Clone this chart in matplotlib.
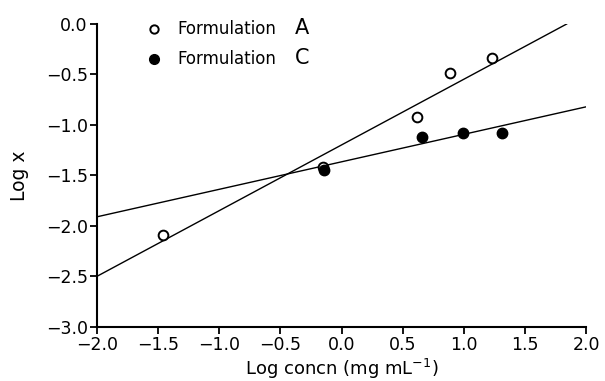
import numpy as np
import matplotlib
matplotlib.use('Agg')
import matplotlib.pyplot as plt

# data
a_x = [-1.46, -0.15, 0.62, 0.89, 1.23]
a_y = [-2.09, -1.42, -0.92, -0.49, -0.34]
c_x = [-0.14, 0.66, 0.99, 1.31]
c_y = [-1.45, -1.12, -1.08, -1.08]

# fitted lines (end points)
a_line_x = [-2.0, 1.84]
a_line_y = [-2.5, 0.0]
c_line_x = [-2.0, 2.0]
c_line_y = [-1.91, -0.82]

xticks = np.arange(-2.0, 2.01, 0.5)
yticks = np.arange(-3.0, 0.01, 0.5)

plt.rcParams['font.family'] = 'DejaVu Sans'

fig = plt.figure(figsize=(6.05, 3.81), dpi=100)
ax = fig.add_axes([0.160, 0.142, 0.809, 0.795])

ax.plot(a_line_x, a_line_y, color='black', lw=1.0)
ax.plot(c_line_x, c_line_y, color='black', lw=1.0)

ax.plot(a_x, a_y, 'o', mfc='white', mec='black', mew=1.4, ms=7, zorder=3)
ax.plot(c_x, c_y, 'o', mfc='black', mec='black', ms=7.5, zorder=3)

ax.set_xlim(-2.0, 2.0)
ax.set_ylim(-3.0, 0.0)
ax.set_xticks(xticks)
ax.set_yticks(yticks)
ax.set_xticklabels([f'{v:.1f}'.replace('-', '\u2212') for v in xticks])
ax.set_yticklabels([f'{v:.1f}'.replace('-', '\u2212') if v != 0 else '0.0' for v in yticks])

for s in ['top', 'right']:
    ax.spines[s].set_visible(False)
for s in ['left', 'bottom']:
    ax.spines[s].set_linewidth(1.5)
ax.tick_params(direction='out', length=5, width=1.3, labelsize=12.5, pad=1.5)

ax.set_xlabel('Log concn (mg mL$^{-1}$)', fontsize=13, va='center')
ax.xaxis.set_label_coords(0.5, -0.14)
ax.set_ylabel('Log x', fontsize=13.5, va='center')
ax.yaxis.set_label_coords(-0.158, 0.5)

# legend
ax.plot([-1.53], [-0.05], 'o', mfc='white', mec='black', mew=1.4, ms=6, clip_on=False)
ax.plot([-1.53], [-0.35], 'o', mfc='black', mec='black', ms=7, clip_on=False)
ax.text(-1.345, -0.05, 'Formulation', fontsize=12, va='center', ha='left')
ax.text(-0.38, -0.035, 'A', fontsize=15, va='center', ha='left')
ax.text(-1.345, -0.35, 'Formulation', fontsize=12, va='center', ha='left')
ax.text(-0.38, -0.335, 'C', fontsize=15, va='center', ha='left')

fig.savefig('out.png', dpi=100)
